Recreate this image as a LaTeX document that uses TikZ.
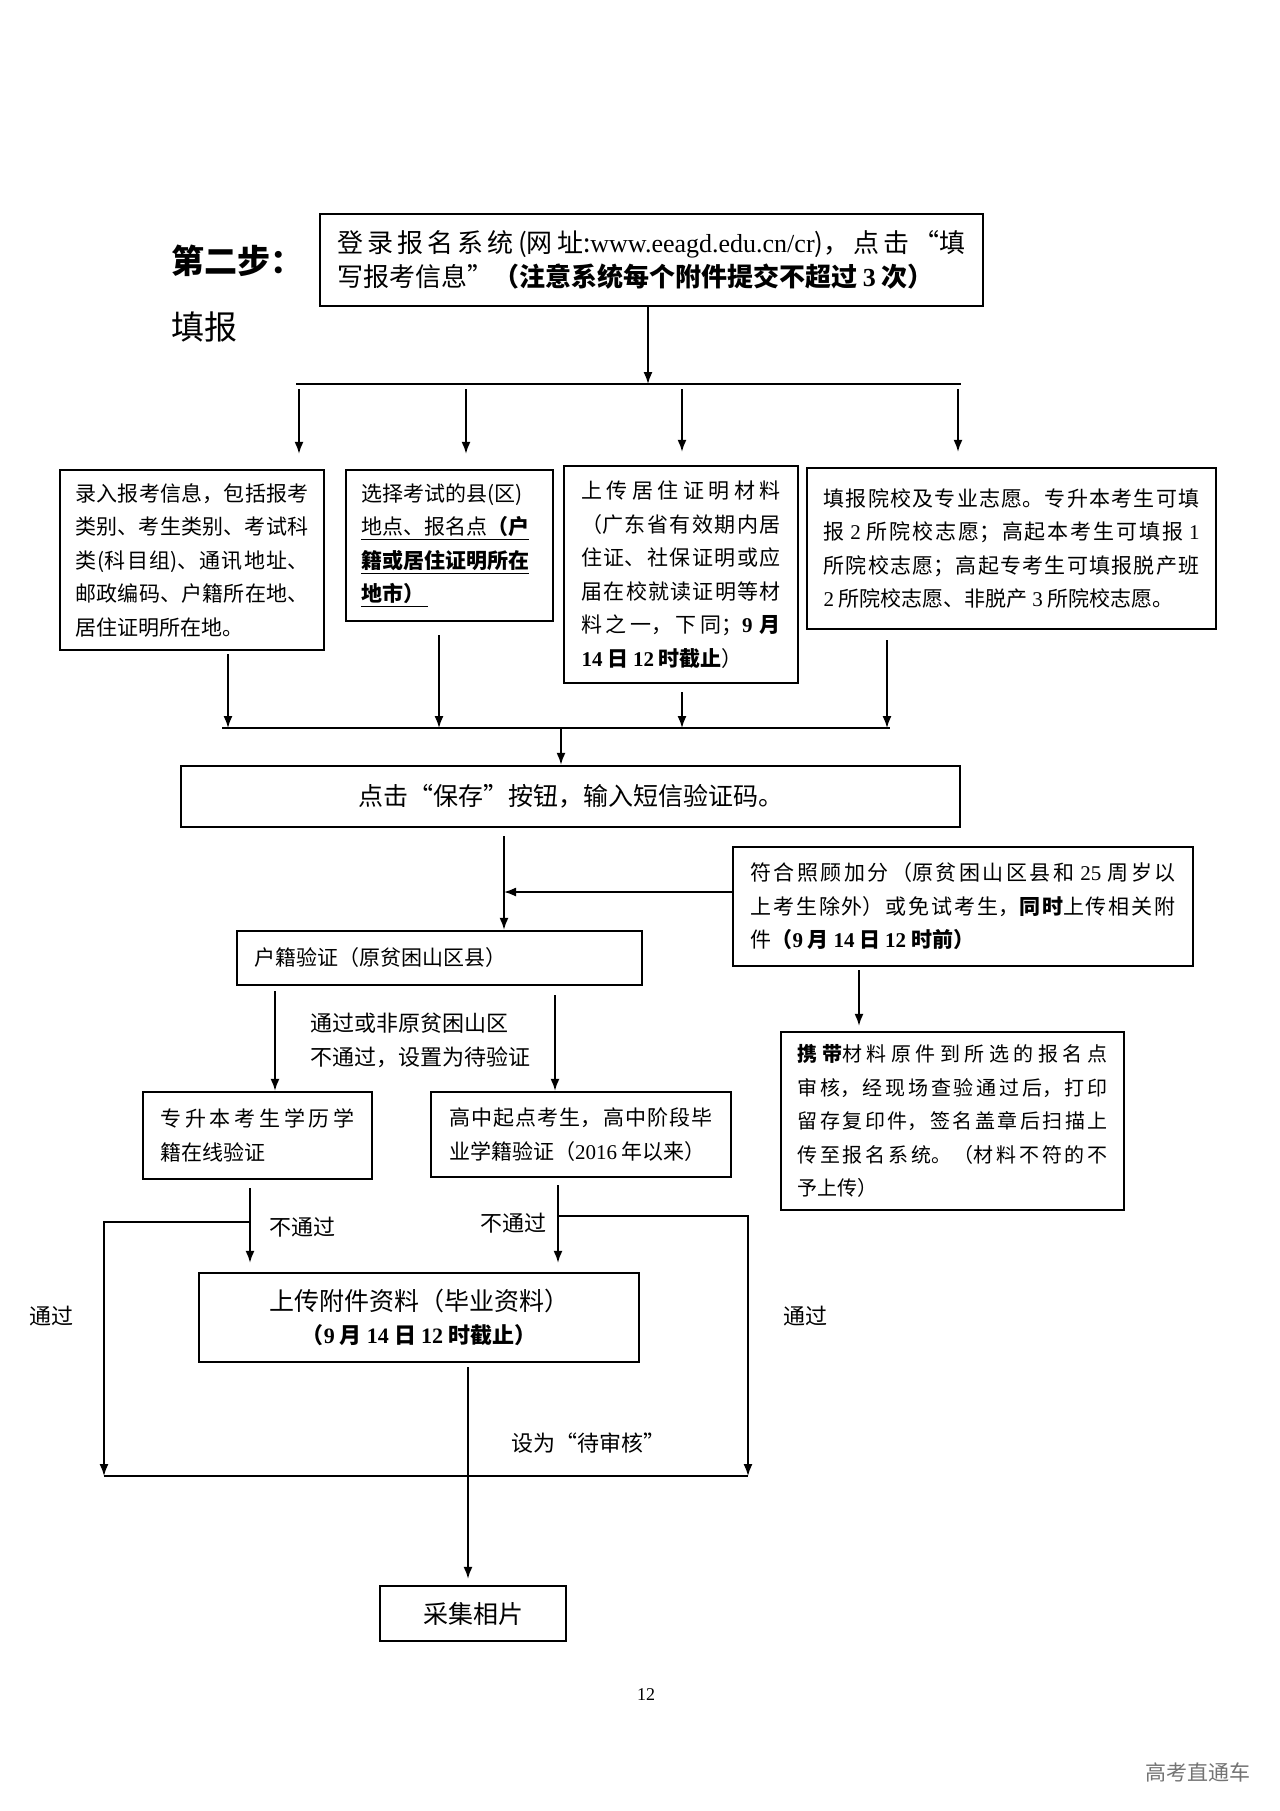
\documentclass[tikz,border=0pt]{standalone}
\usepackage{fontspec}
\setmainfont{Noto Sans CJK SC}
\newfontfamily\tnr{Liberation Serif}
\usetikzlibrary{arrows.meta}
\XeTeXlinebreaklocale "zh"
\XeTeXlinebreakskip=0pt plus 2pt
\tolerance=10000 \hbadness=10000 \vbadness=10000
\setlength\parindent{0pt}
\newcommand\nm[1]{{\tnr #1}}
\newcommand\fsz[2]{\fontsize{#1}{#2}\selectfont}
\tikzset{
 bx/.style={draw, line width=1.2pt, inner ysep=0pt, align=justify},
 body/.style={font=\fsz{10.5pt}{16.75pt}},
 ln/.style={line width=0.8pt},
 arr/.style={ln, -{Latex[length=6pt,width=4.5pt]}},
 lbl/.style={inner sep=0pt, font=\fsz{11pt}{17pt}},
}
\begin{document}
\begin{tikzpicture}[x=0.5pt,y=-0.5pt]
\fill[white] (0,0) rectangle (1280,1811);
\useasboundingbox (0,0) rectangle (1280,1811);

% headings
\node[anchor=west, inner sep=0pt, font=\fsz{16.5pt}{20pt}\bfseries] (step) at (171,261) {第二步：};
\node[anchor=west, inner sep=0pt, font=\fsz{16.5pt}{20pt}] (fillin) at (171,327) {填报};

% top box
\node[bx, font=\fsz{13pt}{17pt}, text width=314.5pt, inner xsep=8.5pt, minimum height=46pt] (top) at (651.5,260) {登录报名系统(网址:\mbox{\nm{www.eeagd.edu.cn/cr}})，点击“填\break 写报考信息”\textbf{（注意系统每个附件提交不超过 \nm{3} 次）}};

% row of four boxes
\node[bx, body, text width=116.5pt, inner xsep=7.75pt, minimum height=90pt] (b1) at (192,560) {录入报考信息，包括报考\break 类别、考生类别、考试科\break 类(科目组)、通讯地址、\break 邮政编码、户籍所在地、\break 居住证明所在地。};
\node[bx, body, align=left, text width=88.5pt, inner xsep=7.5pt, minimum height=75.5pt] (b2) at (449.5,545.5) {选择考试的县(区)\\\underline{地点、报名点\textbf{（户}}\\\underline{\textbf{籍或居住证明所在}}\\\underline{\textbf{地市）}\,}};
\node[bx, body, text width=99.5pt, inner xsep=8.75pt, minimum height=108.5pt] (b3) at (681,574.5) {上传居住证明材料\break （广东省有效期内居\break 住证、社保证明或应\break 届在校就读证明等材\break 料之一，下同；\textbf{\nm{9} 月}\break \textbf{\nm{14} 日 \nm{12} 时截止}）};
\node[bx, body, text width=188pt, inner xsep=8.25pt, minimum height=80.5pt] (b4) at (1011.5,548.5) {填报院校及专业志愿。专升本考生可填\break 报 \nm{2} 所院校志愿；高起本考生可填报 \nm{1}\break 所院校志愿；高起专考生可填报脱产班\break \nm{2} 所院校志愿、非脱产 \nm{3} 所院校志愿。};

% save box
\node[bx, align=center, font=\fsz{12.5pt}{16pt}, minimum width=389.5pt, minimum height=30.5pt] (save) at (570.5,796.5) {点击“保存”按钮，输入短信验证码。};

% right box C
\node[bx, body, text width=212.5pt, inner xsep=8.75pt, minimum height=59.5pt] (cbox) at (963,906.5) {符合照顾加分（原贫困山区县和 \nm{25} 周岁以\break 上考生除外）或免试考生，\textbf{同时}上传相关附\break 件\textbf{（\nm{9} 月 \nm{14} 日 \nm{12} 时前）}};

% hukou box
\node[bx, body, align=left, text width=185.5pt, inner xsep=8.5pt, minimum height=27pt] (hj) at (439.5,958) {户籍验证（原贫困山区县）};

% D1, D2
\node[bx, body, text width=97pt, inner xsep=8.75pt, minimum height=43.5pt] (d1) at (257.5,1135.5) {专升本考生学历学\break 籍在线验证};
\node[bx, body, text width=132pt, inner xsep=9pt, minimum height=42.5pt] (d2) at (581,1134.5) {高中起点考生，高中阶段毕\break 业学籍验证（\nm{2016} 年以来）};

% E box
\node[bx, font=\fsz{10pt}{16.75pt}, text width=155pt, inner xsep=8.25pt, minimum height=89pt] (ebox) at (952.5,1121) {\textbf{携带}材料原件到所选的报名点\break 审核，经现场查验通过后，打印\break 留存复印件，签名盖章后扫描上\break 传至报名系统。（材料不符的不\break 予上传）};

% F box
\node[bx, align=center, font=\fsz{12.5pt}{16.5pt}, minimum width=220pt, minimum height=44.5pt] (fbox) at (419,1317.5) {上传附件资料（毕业资料）\\{\fsz{11pt}{16.5pt}\bfseries （\nm{9} 月 \nm{14} 日 \nm{12} 时截止）}};

% photo box
\node[bx, align=center, font=\fsz{12.5pt}{16pt}, minimum width=93pt, minimum height=27.5pt] (photo) at (473,1613.5) {采集相片};

% ---- connectors ----
\coordinate (h0) at (648,384);
\coordinate (hL) at (296,384);
\coordinate (hR) at (961,384);
\draw[arr] (top.south -| h0) -- (h0);
\draw[ln] (hL) -- (hR);
\coordinate (dA1) at (299,389);
\coordinate (dA2) at (466,389);
\coordinate (dA3) at (682,389);
\coordinate (dA4) at (958,389);
\draw[arr, shorten >=7.5pt] (dA1) -- (b1.north -| dA1);
\draw[arr, shorten >=7.5pt] (dA2) -- (b2.north -| dA2);
\draw[arr, shorten >=6.5pt] (dA3) -- (b3.north -| dA3);
\draw[arr, shorten >=7.5pt] (dA4) -- (b4.north -| dA4);

\coordinate (mL) at (222,728);
\coordinate (mR) at (890,728);
\draw[ln] (mL) -- (mR);
\coordinate (m1) at (228,728);
\coordinate (m2) at (439,728);
\coordinate (m3) at (682,728);
\coordinate (m4) at (887,728);
\draw[arr, shorten <=1.5pt] (b1.south -| m1) -- (m1);
\draw[arr, shorten <=6.5pt] (b2.south -| m2) -- (m2);
\draw[arr, shorten <=4pt] (b3.south -| m3) -- (m3);
\draw[arr, shorten <=5pt] (b4.south -| m4) -- (m4);
\coordinate (m0) at (561,728);
\draw[arr] (m0) -- (save.north -| m0);

\coordinate (v0) at (504,892);
\draw[arr, shorten <=4pt] (save.south -| v0) -- (hj.north -| v0);
\draw[arr] (cbox.west |- v0) -- (v0);

\coordinate (xce) at (859,1000);
\draw[arr, shorten <=1.5pt, shorten >=2.5pt] (cbox.south -| xce) -- (ebox.north -| xce);

\coordinate (xl) at (275,1040);
\coordinate (xr) at (555,1040);
\draw[arr, shorten <=2.5pt] (hj.south -| xl) -- (d1.north -| xl);
\draw[arr, shorten <=4.5pt] (hj.south -| xr) -- (d2.north -| xr);
\node[lbl, anchor=west, align=left] (lhj) at (310,1040) {通过或非原贫困山区\\不通过，设置为待验证};

\coordinate (jL) at (250,1222);
\coordinate (cL) at (104,1222);
\coordinate (bL) at (104,1476);
\coordinate (jR) at (558,1216);
\coordinate (cR) at (748,1216);
\coordinate (bR) at (748,1476);
\draw[arr, shorten <=4pt, shorten >=4.5pt] (d1.south -| jL) -- (fbox.north -| jL);
\draw[arr, shorten <=3.5pt, shorten >=4.5pt] (d2.south -| jR) -- (fbox.north -| jR);
\draw[arr] (jL) -- (cL) -- (bL);
\draw[arr] (jR) -- (cR) -- (bR);
\draw[ln] (bL) -- (bR);
\coordinate (xf) at (468,1400);
\draw[arr, shorten <=2pt, shorten >=3pt] (fbox.south -| xf) -- (photo.north -| xf);

% labels
\node[lbl] (n1) at (302,1227) {不通过};
\node[lbl] (n2) at (513,1223) {不通过};
\node[lbl] (p1) at (51,1316) {通过};
\node[lbl] (p2) at (805,1316) {通过};
\node[lbl] (dsh) at (588,1443) {设为“待审核”};
\node[inner sep=0pt, font=\tnr\fsz{9pt}{11pt}] (pg) at (646,1695) {12};
\node[inner sep=0pt, font=\fsz{10.5pt}{12pt}, text=black!55] (wm) at (1198,1772) {高考直通车};
\end{tikzpicture}
\end{document}
